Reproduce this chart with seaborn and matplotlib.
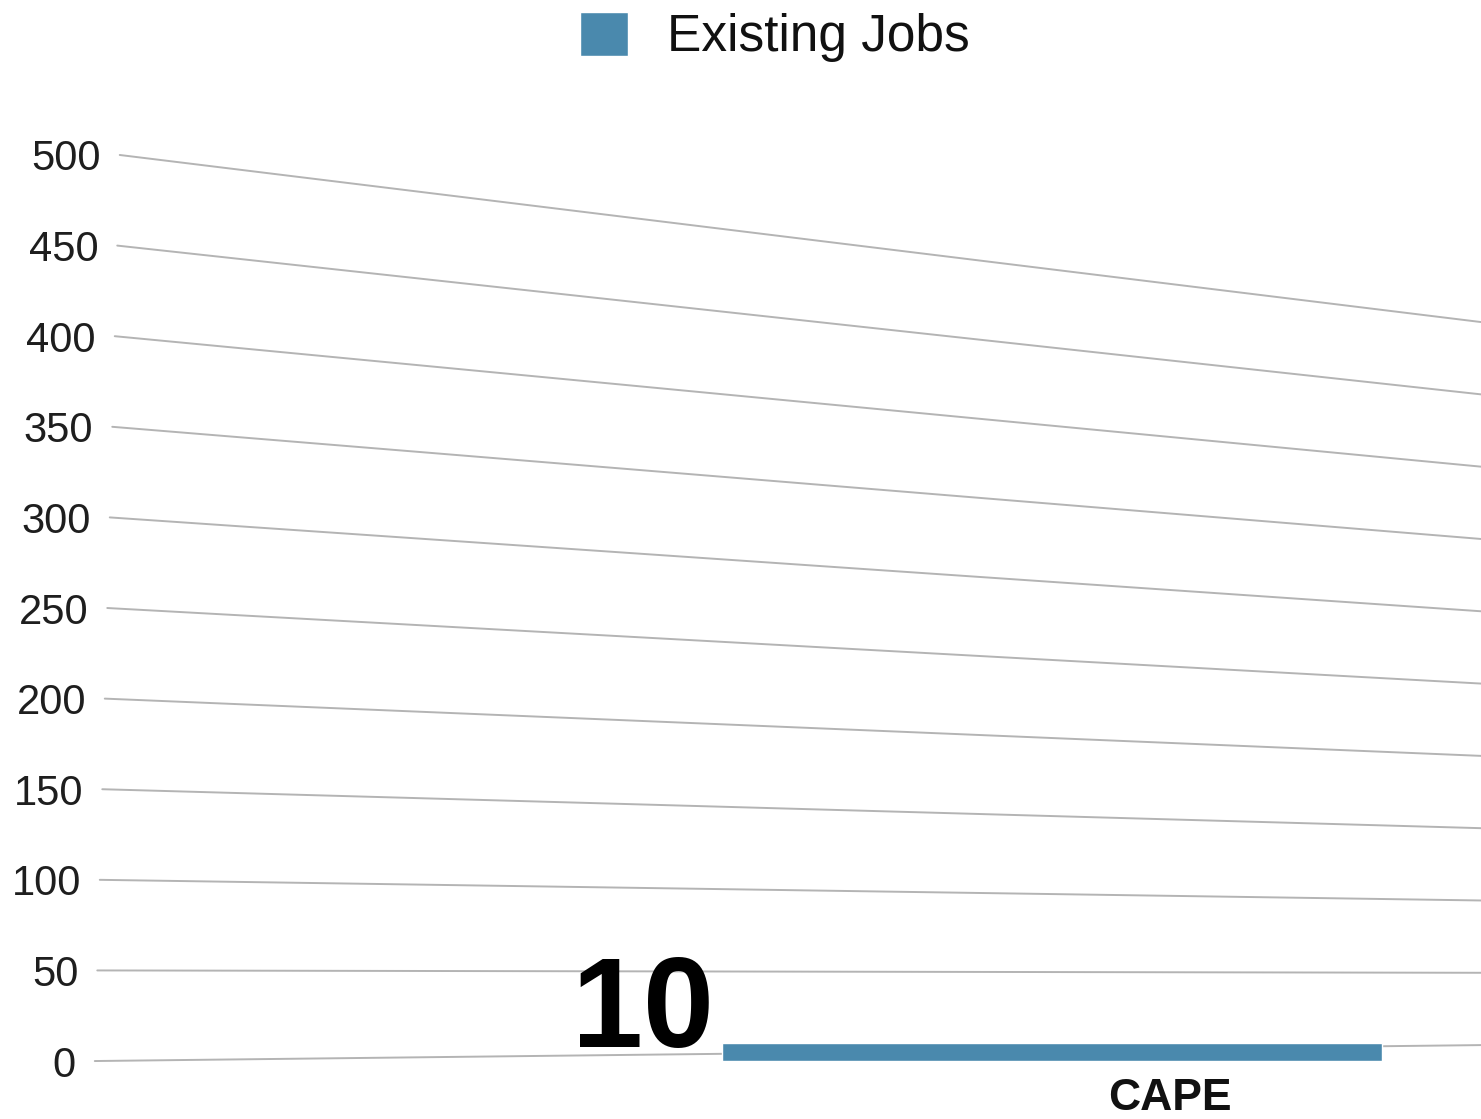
import numpy as np
import pandas as pd
import matplotlib
matplotlib.use("Agg")
import matplotlib.pyplot as plt
import matplotlib.transforms as mtransforms
import seaborn as sns

# data
regions = ["CAPE"]
existing_jobs = [10]
series_name = "Existing Jobs"
y_ticks = [0, 50, 100, 150, 200, 250, 300, 350, 400, 450, 500]

df = pd.DataFrame({"Region": regions, "Jobs": existing_jobs, "Series": series_name})

sns.set_style("white")
plt.rcParams["font.family"] = ["Liberation Sans", "DejaVu Sans"]
plt.rcParams["text.color"] = "#111111"

fig = plt.figure(figsize=(14.81, 11.19), dpi=100)
ax = fig.add_axes([0.064, 0.0518, 0.936, 0.8097])

sns.barplot(data=df, x="Region", y="Jobs", hue="Series",
            palette=["#4a89ad"], saturation=1, width=0.8, ax=ax, zorder=3)

ax.set_ylim(0, 500)
ax.set_xlim(-1.16, 0.52)
ax.set_yticks(y_ticks)
ax.set_yticklabels([str(t) for t in y_ticks], fontsize=30, color="#1e1e1e")
ax.tick_params(axis="y", length=0, pad=10)
ax.tick_params(axis="x", length=0, pad=12)

# y labels follow the receding gridline ends
for t, lbl in zip(y_ticks, ax.get_yticklabels()):
    dx = (-5 + 25 * t / 500) / 100
    lbl.set_transform(lbl.get_transform() +
                      mtransforms.ScaledTranslation(dx, 0, fig.dpi_scale_trans))

for lbl in ax.get_xticklabels():
    lbl.set_fontsize(32)
    lbl.set_fontweight("bold")
    lbl.set_color("#111111")
    lbl.set_transform(lbl.get_transform() +
                      mtransforms.ScaledTranslation(1.18, 0, fig.dpi_scale_trans))
ax.set_xlabel("")
ax.set_ylabel("")
for s in ax.spines.values():
    s.set_visible(False)

# gridlines recede in perspective toward the right edge
blend = mtransforms.blended_transform_factory(ax.transAxes, ax.transData)
for t in y_ticks:
    x_left = 0.018 * t / 500
    y_right = 8.8 + 0.798 * t
    ax.plot([x_left, 1.0], [t, y_right], color="#b4b4b4", lw=1.4,
            transform=blend, zorder=1, clip_on=False)

# big value label at the left end of the bar
bar = ax.patches[0]
ax.annotate(str(existing_jobs[0]), xy=(bar.get_x(), existing_jobs[0]),
            xytext=(-6, -3), textcoords="offset points",
            ha="right", va="baseline", fontsize=92, fontweight="bold",
            color="#000000", zorder=4)

handles, labels = ax.get_legend_handles_labels()
if ax.get_legend() is not None:
    ax.get_legend().remove()
fig.legend(handles, labels, loc="upper center", bbox_to_anchor=(0.523, 1.017),
           frameon=False, fontsize=37, handlelength=0.94, handleheight=0.94,
           handletextpad=0.76, borderaxespad=0.2, labelcolor="#111111")

fig.savefig("out.png", dpi=100)
